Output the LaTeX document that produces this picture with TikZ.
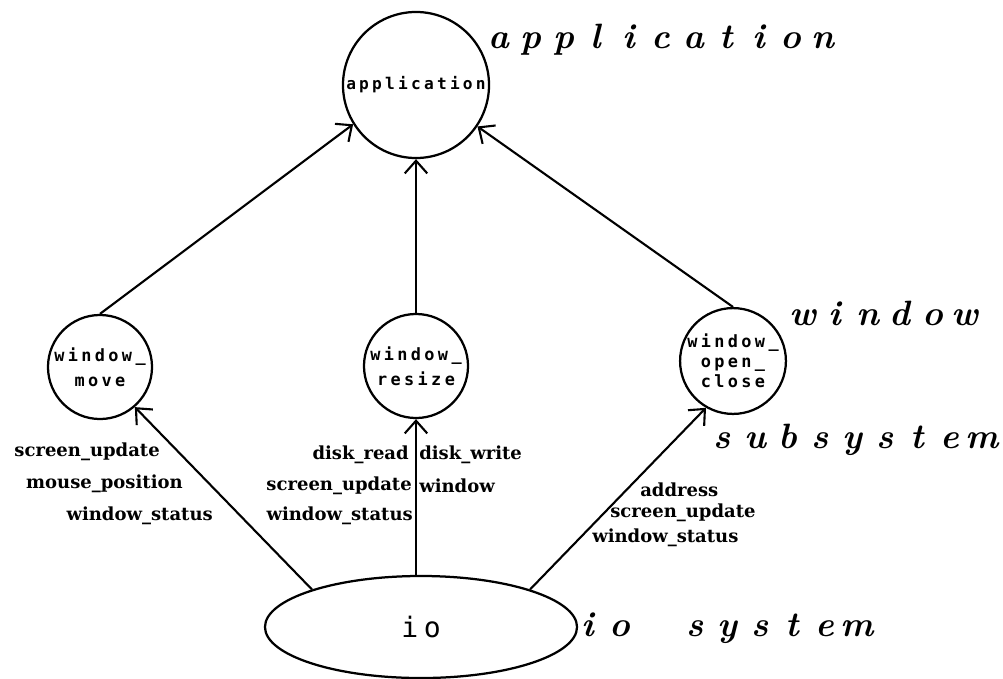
\documentclass[tikz,border=0pt]{standalone}
\usepackage{fontspec}
\usetikzlibrary{shapes.geometric,arrows.meta}
\newfontfamily\plotfont[LetterSpace=20]{DejaVu Sans Mono}
\newfontfamily\flowfont{DejaVu Serif}
% letter-spaced text: every letter centred in a cell of fixed width
\newcommand\pitch{23.1pt}
\makeatletter
\newcommand\spread[1]{\@tfor\spr@ch:=#1\do{\makebox[\pitch]{\spr@ch}}}
\makeatother
\tikzset{
  proc/.style={draw,circle,line width=1.6pt,inner sep=0pt,minimum size=2.6cm,
    align=center,font=\plotfont\bfseries\fontsize{12}{17.5}\selectfont},
  flow/.style={line width=1.5pt,-{Straight Barb[length=9pt,width=16pt,line width=1.5pt]}},
  flowlabel/.style={inner sep=0pt,font=\flowfont\bfseries\fontsize{12.8}{15}\selectfont},
  layer/.style={inner sep=0pt,anchor=west,font=\fontsize{25}{30}\selectfont\bfseries\itshape}
}
\begin{document}
\begin{tikzpicture}[x=0.025cm,y=-0.025cm]
\useasboundingbox (0,0) rectangle (1003,678);

% processes
\node[proc,minimum size=3.65cm,font=\plotfont\bfseries\fontsize{11.5}{13}\selectfont] (app) at (416,85) {application};
\node[proc] (wm) at (100,367) {window\_\\move};
\node[proc] (wr) at (416,366) {window\_\\resize};
\node[proc,minimum size=2.575cm,font=\plotfont\bfseries\fontsize{12}{14.2}\selectfont] (woc) at (733,361) {window\_\\open\_\\close};
\node[draw,ellipse,line width=1.6pt,minimum width=7.8cm,minimum height=2.55cm,inner sep=0pt,
  font=\plotfont\fontsize{20}{24}\selectfont] (io) at (421,627) {io};

% data flows
\draw[flow] (wm.north) -- (app.212);
\draw[flow] (wr.north) -- (app.south);
\draw[flow] (woc.north) -- (app.326);
\draw[flow] (io.161) -- (wm.311);
\draw[flow] (wr.south |- io.north) -- (wr.south);
\draw[flow] (io.19) -- (woc.240);

% flow labels
\node[flowlabel,anchor=east] (l1) at (160,452) {screen\_update};
\node[flowlabel,anchor=east] (l2) at (183,484) {mouse\_position};
\node[flowlabel,anchor=east] (l3) at (213,516) {window\_status};
\node[flowlabel,anchor=east] (m1) at (409,455) {disk\_read};
\node[flowlabel,anchor=east] (m2) at (412,486) {screen\_update};
\node[flowlabel,anchor=east] (m3) at (413,516) {window\_status};
\node[flowlabel,anchor=west] (m4) at (419,455) {disk\_write};
\node[flowlabel,anchor=west] (m5) at (419,486) {window};
\node[flowlabel,anchor=west] (r1) at (640,490) {address};
\node[flowlabel,anchor=west] (r2) at (610,513) {screen\_update};
\node[flowlabel,anchor=west] (r3) at (592,538) {window\_status};

% layer names
\node[layer] (t1) at (482,40) {\spread{application}};
\node[layer] (t2) at (786,313) {\spread{window}};
\node[layer] (t3) at (706,440) {\spread{subsystem}};
\node[layer] (t4) at (571,628) {\spread{io}\hspace{30pt}\spread{system}};
\end{tikzpicture}
\end{document}
